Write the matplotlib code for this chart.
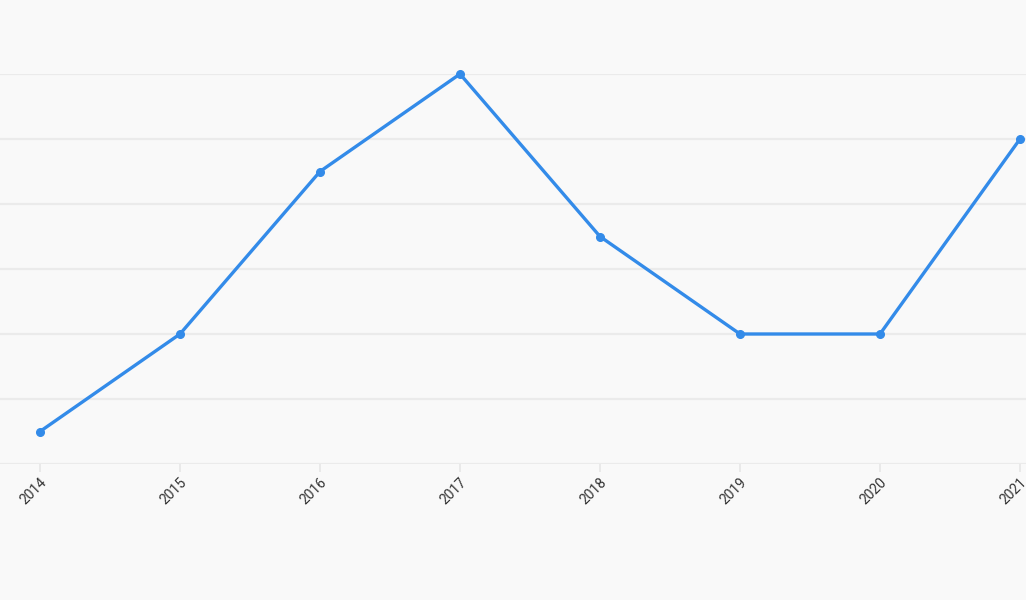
import matplotlib
matplotlib.use("Agg")
import matplotlib.pyplot as plt

years = ["2014", "2015", "2016", "2017", "2018", "2019", "2020", "2021"]
values = [0.5, 2, 4.5, 6, 3.5, 2, 2, 5]

bg = "#f9f9f9"
fig = plt.figure(figsize=(10.26, 6), dpi=100, facecolor=bg)
ax = fig.add_axes([0, (600 - 464) / 600, 1, (464 - 74) / 600])
ax.set_facecolor(bg)

x = list(range(len(years)))
ax.plot(x, values, color="#338be9", lw=2.4, marker="o", ms=5.5, clip_on=False, zorder=3)

ax.set_xlim(-40 / 140, 986 / 140)
ax.set_ylim(0, 6)
ax.set_yticks(range(0, 7))
ax.yaxis.grid(True, color="#ebebeb", lw=1.6)
ax.tick_params(axis="y", left=False, labelleft=False)
ax.set_xticks(x)
ax.set_xticklabels(years, rotation=45, ha="right", rotation_mode="anchor",
                   fontsize=10, color="#333333", family="Roboto")
ax.tick_params(axis="x", length=6, width=1.2, color="#e6e6e6", pad=2)
for s in ["top", "right", "left", "bottom"]:
    ax.spines[s].set_visible(False)

fig.savefig("out.png", dpi=100, facecolor=bg)
